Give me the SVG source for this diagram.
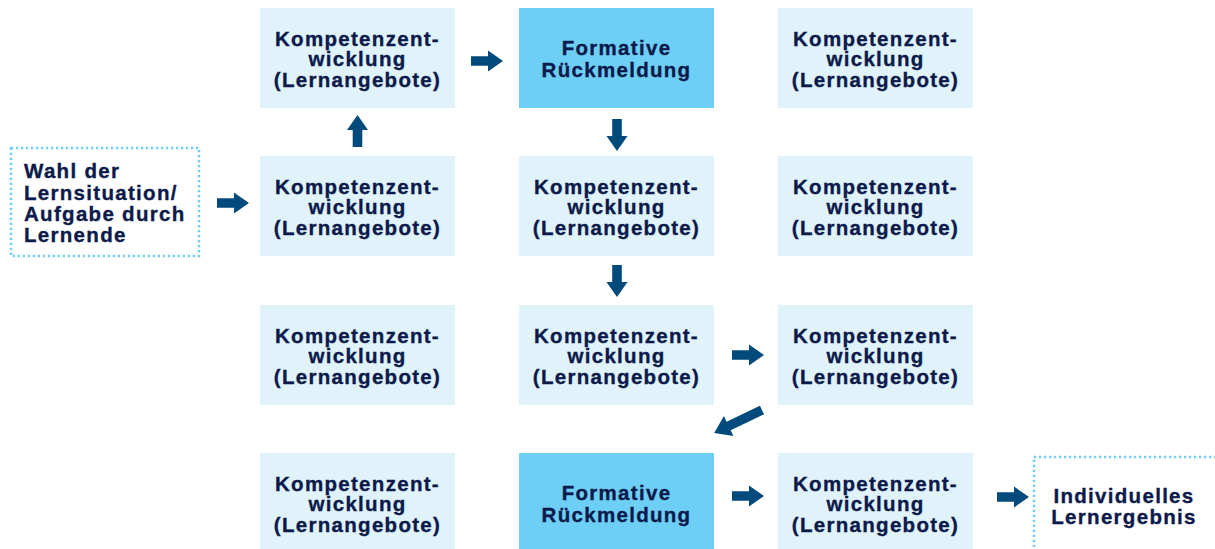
<svg xmlns="http://www.w3.org/2000/svg" width="1215" height="549" viewBox="0 0 1215 549">
<style>
.box{fill:#e0f2fa}
.fb{fill:#6dcff6}
.dot{fill:none;stroke:#6dcff6;stroke-width:2.5;stroke-dasharray:2.2 2.8}
text{font-family:"Liberation Sans",Arial,sans-serif;font-weight:bold;font-size:20.5px;fill:#0b1a4a;stroke:#0b1a4a;stroke-width:0.35px;letter-spacing:1.3px}
.c{text-anchor:middle}
.arr{fill:#004a7c}
</style>
<defs>
<path id="ar" d="M0,-4.8 L17,-4.8 L17,-10.5 L32,0 L17,10.5 L17,4.8 L0,4.8 Z"/>
</defs>
<rect width="1215" height="549" fill="#fff"/>
<g id="start">
<rect class="dot" x="11" y="148" width="188" height="108"/>
<text x="24" y="178">Wahl der</text>
<text x="24" y="199.5">Lernsituation/</text>
<text x="24" y="221">Aufgabe durch</text>
<text x="24" y="242">Lernende</text>
</g>
<g id="n11"><rect class="box" x="260" y="8" width="195" height="100"/><text class="c" x="357.5" y="45.5">Kompetenzent-</text><text class="c" x="357.5" y="66">wicklung</text><text class="c" x="357.5" y="87">(Lernangebote)</text></g>
<g id="n12"><rect class="fb" x="519" y="8" width="195" height="100"/><text class="c" x="616.5" y="55">Formative</text><text class="c" x="616.5" y="76.5">Rückmeldung</text></g>
<g id="n13"><rect class="box" x="778" y="8" width="195" height="100"/><text class="c" x="875.5" y="45.5">Kompetenzent-</text><text class="c" x="875.5" y="66">wicklung</text><text class="c" x="875.5" y="87">(Lernangebote)</text></g>
<g id="n21"><rect class="box" x="260" y="156" width="195" height="100"/><text class="c" x="357.5" y="193.5">Kompetenzent-</text><text class="c" x="357.5" y="214">wicklung</text><text class="c" x="357.5" y="235">(Lernangebote)</text></g>
<g id="n22"><rect class="box" x="519" y="156" width="195" height="100"/><text class="c" x="616.5" y="193.5">Kompetenzent-</text><text class="c" x="616.5" y="214">wicklung</text><text class="c" x="616.5" y="235">(Lernangebote)</text></g>
<g id="n23"><rect class="box" x="778" y="156" width="195" height="100"/><text class="c" x="875.5" y="193.5">Kompetenzent-</text><text class="c" x="875.5" y="214">wicklung</text><text class="c" x="875.5" y="235">(Lernangebote)</text></g>
<g id="n31"><rect class="box" x="260" y="305" width="195" height="100"/><text class="c" x="357.5" y="342.5">Kompetenzent-</text><text class="c" x="357.5" y="363">wicklung</text><text class="c" x="357.5" y="384">(Lernangebote)</text></g>
<g id="n32"><rect class="box" x="519" y="305" width="195" height="100"/><text class="c" x="616.5" y="342.5">Kompetenzent-</text><text class="c" x="616.5" y="363">wicklung</text><text class="c" x="616.5" y="384">(Lernangebote)</text></g>
<g id="n33"><rect class="box" x="778" y="305" width="195" height="100"/><text class="c" x="875.5" y="342.5">Kompetenzent-</text><text class="c" x="875.5" y="363">wicklung</text><text class="c" x="875.5" y="384">(Lernangebote)</text></g>
<g id="n41"><rect class="box" x="260" y="453" width="195" height="100"/><text class="c" x="357.5" y="490.5">Kompetenzent-</text><text class="c" x="357.5" y="511">wicklung</text><text class="c" x="357.5" y="532">(Lernangebote)</text></g>
<g id="n42"><rect class="fb" x="519" y="453" width="195" height="100"/><text class="c" x="616.5" y="500">Formative</text><text class="c" x="616.5" y="521.5">Rückmeldung</text></g>
<g id="n43"><rect class="box" x="778" y="453" width="195" height="100"/><text class="c" x="875.5" y="490.5">Kompetenzent-</text><text class="c" x="875.5" y="511">wicklung</text><text class="c" x="875.5" y="532">(Lernangebote)</text></g>
<g id="end">
<rect class="dot" x="1034" y="457" width="200" height="110"/>
<text class="c" x="1124" y="503">Individuelles</text>
<text class="c" x="1124" y="524">Lernergebnis</text>
</g>
<g id="connectors" class="arr">
<use href="#ar" transform="translate(217,203)"/>
<use href="#ar" transform="translate(357.5,147) rotate(-90)"/>
<use href="#ar" transform="translate(471,61)"/>
<use href="#ar" transform="translate(617,119) rotate(90)"/>
<use href="#ar" transform="translate(617,265) rotate(90)"/>
<use href="#ar" transform="translate(732,355)"/>
<path d="M0,-4.8 L37,-4.8 L37,-11 L53,0 L37,11 L37,4.8 L0,4.8 Z" transform="translate(762,410) rotate(154.4)"/>
<use href="#ar" transform="translate(732,496)"/>
<use href="#ar" transform="translate(997,497)"/>
</g>
</svg>
